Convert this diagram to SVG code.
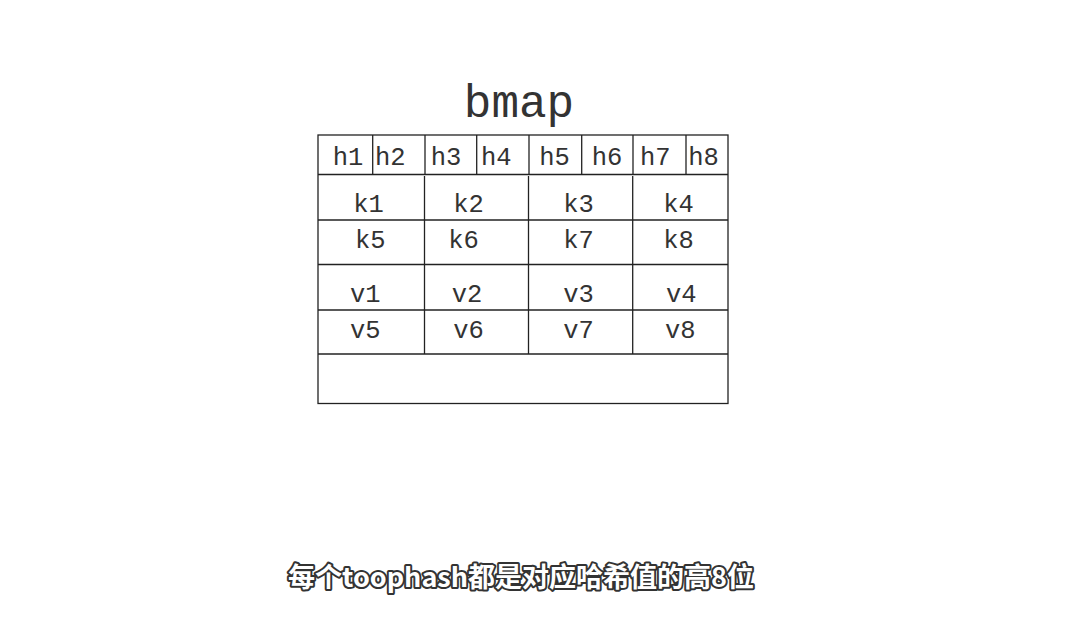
<svg xmlns="http://www.w3.org/2000/svg" width="1090" height="622" viewBox="0 0 1090 622">
<style>
.ln{stroke:#222;stroke-width:1.3;fill:none}
.m{font-family:"Liberation Mono","DejaVu Sans Mono",monospace;fill:#333;font-size:25.5px}
.t{font-family:"Liberation Mono","DejaVu Sans Mono",monospace;fill:#333;font-size:46px}
.sub{font-family:"Noto Sans CJK SC","Noto Sans",sans-serif;font-size:27px;font-weight:bold;fill:#fff;stroke:#333;stroke-width:4;stroke-linejoin:round;paint-order:stroke}
</style>
<rect width="1090" height="622" fill="#fff"/>
<g id="title"><text class="t" x="519" y="117" text-anchor="middle">bmap</text></g>
<g id="table">
<rect class="ln" x="318" y="135" width="410" height="268.5"/>
<line class="ln" x1="318" y1="174.5" x2="728" y2="174.5"/>
<line class="ln" x1="318" y1="220" x2="728" y2="220"/>
<line class="ln" x1="318" y1="264.5" x2="728" y2="264.5"/>
<line class="ln" x1="318" y1="310" x2="728" y2="310"/>
<line class="ln" x1="318" y1="354" x2="728" y2="354"/>
<g>
<line class="ln" x1="372.7" y1="135" x2="372.7" y2="174.5"/>
<line class="ln" x1="425" y1="135" x2="425" y2="174.5"/>
<line class="ln" x1="476.7" y1="135" x2="476.7" y2="174.5"/>
<line class="ln" x1="529" y1="135" x2="529" y2="174.5"/>
<line class="ln" x1="581.7" y1="135" x2="581.7" y2="174.5"/>
<line class="ln" x1="633" y1="135" x2="633" y2="174.5"/>
<line class="ln" x1="686" y1="135" x2="686" y2="174.5"/>
</g>
<line class="ln" x1="424.5" y1="176" x2="424.5" y2="354"/>
<line class="ln" x1="528.5" y1="176" x2="528.5" y2="354"/>
<line class="ln" x1="632.7" y1="176" x2="632.7" y2="354"/>
</g>
<g id="hashes">
<text class="m" x="332.7" y="165">h1</text>
<text class="m" x="375" y="165">h2</text>
<text class="m" x="430.7" y="165">h3</text>
<text class="m" x="481" y="165">h4</text>
<text class="m" x="539.3" y="165">h5</text>
<text class="m" x="591.7" y="165">h6</text>
<text class="m" x="640" y="165">h7</text>
<text class="m" x="688.3" y="165">h8</text>
</g>
<g id="keys">
<text class="m" x="353.3" y="211.7">k1</text>
<text class="m" x="453.3" y="211.7">k2</text>
<text class="m" x="563.3" y="211.7">k3</text>
<text class="m" x="663.3" y="211.7">k4</text>
<text class="m" x="355" y="248.3">k5</text>
<text class="m" x="448.3" y="248.3">k6</text>
<text class="m" x="563.3" y="248.3">k7</text>
<text class="m" x="663.3" y="248.3">k8</text>
</g>
<g id="values">
<text class="m" x="350" y="301.7">v1</text>
<text class="m" x="451.7" y="301.7">v2</text>
<text class="m" x="563.3" y="301.7">v3</text>
<text class="m" x="666" y="301.7">v4</text>
<text class="m" x="350" y="338.3">v5</text>
<text class="m" x="453.3" y="338.3">v6</text>
<text class="m" x="563.3" y="338.3">v7</text>
<text class="m" x="665" y="338.3">v8</text>
</g>
<g id="subtitle"><text class="sub" x="521" y="587" text-anchor="middle">每个toophash都是对应哈希值的高8位</text></g>
</svg>
